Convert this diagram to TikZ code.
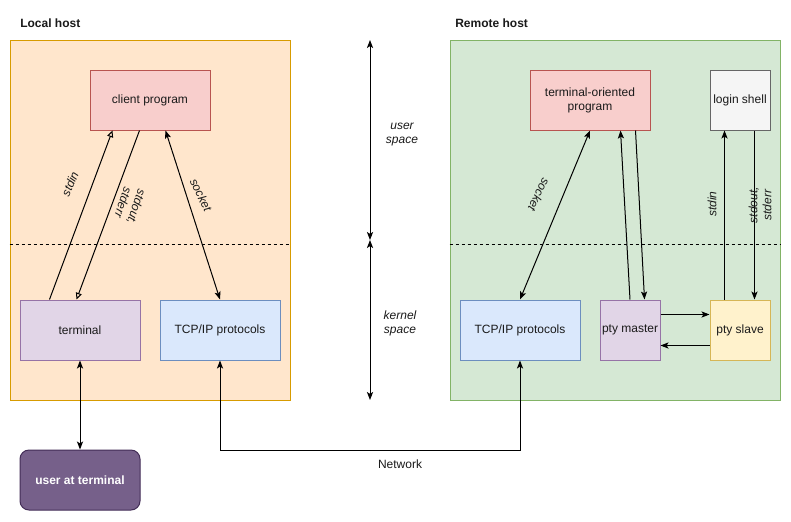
\documentclass[tikz,border=0pt]{standalone}
\usepackage{fontspec}
\setmainfont{Liberation Sans}
\usetikzlibrary{arrows.meta,calc}
\definecolor{localfill}{HTML}{FFE6CC}
\definecolor{localdraw}{HTML}{D79B00}
\definecolor{remfill}{HTML}{D5E8D4}
\definecolor{remdraw}{HTML}{82B366}
\definecolor{redfill}{HTML}{F8CECC}
\definecolor{reddraw}{HTML}{B85450}
\definecolor{purpfill}{HTML}{E1D5E7}
\definecolor{purpdraw}{HTML}{9673A6}
\definecolor{bluefill}{HTML}{DAE8FC}
\definecolor{bluedraw}{HTML}{6C8EBF}
\definecolor{grayfill}{HTML}{F5F5F5}
\definecolor{graydraw}{HTML}{666666}
\definecolor{yelfill}{HTML}{FFF2CC}
\definecolor{yeldraw}{HTML}{D6B656}
\definecolor{userfill}{HTML}{76608A}
\definecolor{userdraw}{HTML}{432D57}
\definecolor{txt}{HTML}{1A1A1A}
\begin{document}
\begin{tikzpicture}[x=0.75pt,y=-0.75pt,
  every node/.style={font=\fontsize{9}{10.5}\selectfont, text=txt},
  box/.style={draw, line width=0.75pt, inner sep=0pt, align=center},
  sz/.style 2 args={minimum width=#1*0.75pt, minimum height=#2*0.75pt},
  lbl/.style={font=\fontsize{9}{10.5}\selectfont\itshape, align=center, inner sep=0pt},
  conn/.style={line width=0.75pt, draw=black},
  >={Stealth[length=6pt,width=4.6pt,inset=1.4pt]},
  opentip/.style={-{Triangle[open,length=5pt,width=4.5pt]}},
  sep/.style={line width=0.75pt, dash pattern=on 2.25pt off 2.25pt}
]
\useasboundingbox (0,0) rectangle (791,521);
\fill[white] (0,0) rectangle (791,521);

% host containers
\node[box, sz={280}{360}, fill=localfill, draw=localdraw] (local) at (150,220) {};
\node[box, sz={330}{360}, fill=remfill, draw=remdraw] (remote) at (615,220) {};
\node[anchor=west, font=\fontsize{9}{10.5}\selectfont\bfseries, inner sep=0pt] (localt) at (20,23) {Local host};
\node[anchor=west, font=\fontsize{9}{10.5}\selectfont\bfseries, inner sep=0pt] (remotet) at (455,23) {Remote host};

% separators
\draw[sep] (local.west |- 0,244) coordinate (ls1) -- (local.east |- 0,244) coordinate (ls2);
\draw[sep] (remote.west |- 0,244) coordinate (rs1) -- (remote.east |- 0,244) coordinate (rs2);

% local nodes
\node[box, sz={120}{60}, fill=redfill, draw=reddraw] (client) at (150,100) {client program};
\node[box, sz={120}{60}, fill=purpfill, draw=purpdraw] (term) at (80,330) {terminal};
\node[box, sz={120}{60}, fill=bluefill, draw=bluedraw] (tcpl) at (220,330) {TCP/IP protocols};
\node[box, sz={120}{60}, fill=userfill, draw=userdraw, rounded corners=6.75pt,
      text=white, font=\fontsize{9}{10.5}\selectfont\bfseries] (user) at (80,480) {user at terminal};

% remote nodes
\node[box, sz={120}{60}, fill=redfill, draw=reddraw] (top) at (590,100) {terminal-oriented\\program};
\node[box, sz={60}{60}, fill=grayfill, draw=graydraw] (shell) at (740,100) {login shell};
\node[box, sz={120}{60}, fill=bluefill, draw=bluedraw] (tcpr) at (520,330) {TCP/IP protocols};
\node[box, sz={60}{60}, fill=purpfill, draw=purpdraw] (master) at (630,330) {pty master};
\node[box, sz={60}{60}, fill=yelfill, draw=yeldraw] (slave) at (740,330) {pty slave};

% space indicator
\coordinate (sp1) at (370,40);
\coordinate (sp2) at (370,240);
\coordinate (sp3) at (370,400);
\draw[conn,<->] (sp1) -- (sp2);
\draw[conn,<->] (sp2) -- (sp3);
\node[lbl] (us) at (402,135) {user\\space};
\node[lbl] (ks) at (400,323) {kernel\\space};

% local connectors
\draw[conn,opentip] ($(term.north west)+(30,0)$) -- ($(client.south west)+(23,0)$);
\draw[conn,opentip] ($(client.south west)+(50,0)$) -- ($(term.north west)+(57,0)$);
\draw[conn,<->] ($(client.south west)+(76,0)$) -- (tcpl.north);
\node[lbl, rotate=67] (lstdin) at (70,184) {stdin};
\node[lbl, rotate=-109] (lstdout) at (130,205) {stdout,\\stderr};
\node[lbl, rotate=-64] (lsock) at (201,195) {socket};
\draw[conn,<->] (term.south) -- (user.north);
\draw[conn,<->] (tcpl.south) -- ++(0,90) coordinate (n1) -| (tcpr.south);
\node[inner sep=0pt] (net) at (400,464) {Network};

% remote connectors
\draw[conn,<->] (top.south) -- (tcpr.north);
\node[lbl, rotate=-116] (rsock) at (539,195) {socket};
\draw[conn,->] (master.north) -- ($(top.south west)+(91,0)$);
\draw[conn,->] ($(top.south west)+(106,0)$) -- ($(master.north west)+(45,0)$);
\draw[conn,->] ($(master.north east)+(0,15)$) -- ($(slave.north west)+(0,15)$);
\draw[conn,->] ($(slave.south west)+(0,-15)$) -- ($(master.south east)+(0,-15)$);
\draw[conn,->] ($(slave.north west)+(15,0)$) -- ($(shell.south west)+(15,0)$);
\draw[conn,->] ($(shell.south west)+(45,0)$) -- ($(slave.north west)+(45,0)$);
\node[lbl, rotate=90] (rstdin) at (712,204) {stdin};
\node[lbl, rotate=90] (rstdout) at (760,205) {stdout,\\stderr};
\end{tikzpicture}
\end{document}
